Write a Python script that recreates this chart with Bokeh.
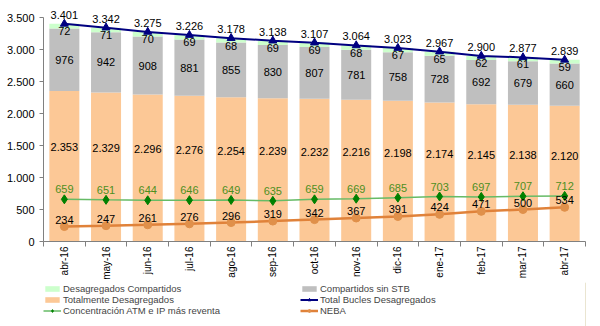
from bokeh.plotting import figure
from bokeh.layouts import column
from bokeh.models import (ColumnDataSource, FixedTicker, Legend, LegendItem,
                          CustomJSTickFormatter)
from bokeh.core.properties import value
from bokeh.embed import file_html
from bokeh.resources import INLINE

months = ["abr-16", "may-16", "jun-16", "jul-16", "ago-16", "sep-16", "oct-16",
          "nov-16", "dic-16", "ene-17", "feb-17", "mar-17", "abr-17"]
totalmente = [2353, 2329, 2296, 2276, 2254, 2239, 2232, 2216, 2198, 2174, 2145, 2138, 2120]
compartidos_sin_stb = [976, 942, 908, 881, 855, 830, 807, 781, 758, 728, 692, 679, 660]
desag_compartidos = [72, 71, 70, 69, 68, 69, 69, 68, 67, 65, 62, 61, 59]
total_bucles = [3401, 3342, 3275, 3226, 3178, 3138, 3107, 3064, 3023, 2967, 2900, 2877, 2839]
concentracion = [659, 651, 644, 646, 649, 635, 659, 669, 685, 703, 697, 707, 712]
neba = [234, 247, 261, 276, 296, 319, 342, 367, 391, 424, 471, 500, 534]


def fmt(v):
    return f"{v:,}".replace(",", ".")


n = len(months)
xs = list(range(n))
b1 = totalmente
b2 = [a + b for a, b in zip(totalmente, compartidos_sin_stb)]
b3 = [a + b for a, b in zip(b2, desag_compartidos)]

src = ColumnDataSource(dict(
    x=xs, tot=totalmente, b1=b1, b2=b2, b3=b3, zero=[0] * n,
    gray_mid=[(a + b) / 2 for a, b in zip(b1, b2)],
    tot_lab_y=[v * 0.63 for v in totalmente],
    tot_lab=[fmt(v) for v in totalmente],
    gray_lab=[fmt(v) for v in compartidos_sin_stb],
    green_lab=[fmt(v) for v in desag_compartidos],
    total=total_bucles, total_lab=[fmt(v) for v in total_bucles],
    conc=concentracion, conc_lab=[fmt(v) for v in concentracion],
    neba=neba, neba_lab=[fmt(v) for v in neba],
))

FONT = "Liberation Sans"
C_OR, C_GR, C_LG = "#FCC896", "#BFBFBF", "#CCFFCC"
C_TOT = "#000080"
C_CL, C_CM = "#66BB66", "#008000"
C_NL, C_NM = "#E0823A", "#E0904A"

p = figure(frame_width=542, frame_height=241, output_backend="svg",
           toolbar_location=None,
           x_range=(-0.5, n - 0.5), y_range=(0, 3766),
           min_border_left=43, min_border_right=15, min_border_top=0,
           min_border_bottom=0)
p.outline_line_color = None
p.grid.grid_line_color = None
p.background_fill_color = "white"

W = 0.72
p.vbar(x="x", bottom="zero", top="b1", width=W, source=src, fill_color=C_OR, line_color=None)
p.vbar(x="x", bottom="b1", top="b2", width=W, source=src, fill_color=C_GR, line_color=None)
p.vbar(x="x", bottom="b2", top="b3", width=W, source=src, fill_color=C_LG, line_color=None)

p.line("x", "total", source=src, line_color=C_TOT, line_width=2)
p.scatter("x", "total", source=src, marker="triangle", size=8,
          fill_color=C_TOT, line_color=C_TOT)
p.line("x", "conc", source=src, line_color=C_CL, line_width=1.5)
p.scatter("x", "conc", source=src, marker="diamond", size=9,
          fill_color=C_CM, line_color=C_CM)
p.line("x", "neba", source=src, line_color=C_NL, line_width=2.5)
p.scatter("x", "neba", source=src, marker="circle", size=8,
          fill_color=C_NM, line_color=C_NM)

common = dict(source=src, text_font=value(FONT), text_font_size="11px",
              text_align="center")
p.text("x", "tot_lab_y", text="tot_lab", text_color="black",
       text_baseline="middle", **common)
p.text("x", "gray_mid", text="gray_lab", text_color="black",
       text_baseline="middle", **common)
p.text("x", "b2", text="green_lab", text_color="black",
       text_baseline="top", y_offset=-1, **common)
p.text("x", "total", text="total_lab", text_color="black",
       text_baseline="bottom", y_offset=-5, **common)
p.text("x", "conc", text="conc_lab", text_color="#4E8F1E",
       text_baseline="bottom", y_offset=-6, **common)
p.text("x", "neba", text="neba_lab", text_color="black",
       text_baseline="bottom", y_offset=-3, **common)

# axes
p.yaxis.ticker = FixedTicker(ticks=list(range(0, 3501, 500)))
p.yaxis.bounds = (0, 3500)
p.yaxis.formatter = CustomJSTickFormatter(
    code="return tick.toString().replace(/\\B(?=(\\d{3})+(?!\\d))/g, '.');")
p.yaxis.major_label_text_font = FONT
p.yaxis.major_label_text_font_size = "11px"
p.yaxis.major_label_text_color = "black"
p.yaxis.axis_line_color = "#808080"
p.yaxis.major_tick_line_color = "#808080"
p.yaxis.major_tick_in = 0
p.yaxis.major_tick_out = 4
p.yaxis.minor_tick_line_color = None

p.xaxis.ticker = FixedTicker(ticks=xs, minor_ticks=[i - 0.5 for i in range(n + 1)])
p.xaxis.major_label_overrides = {i: m for i, m in enumerate(months)}
p.xaxis.major_label_orientation = 1.5708
p.xaxis.major_label_text_font = FONT
p.xaxis.major_label_text_font_size = "10px"
p.xaxis.major_label_text_color = "black"
p.xaxis.major_tick_line_color = None
p.xaxis.major_tick_in = 0
p.xaxis.major_tick_out = 4
p.xaxis.minor_tick_line_color = "#808080"
p.xaxis.minor_tick_in = 0
p.xaxis.minor_tick_out = 5
p.xaxis.axis_line_color = "#808080"
p.xaxis.major_label_standoff = 0

# legend figure (separate strip below the chart); its glyphs lie outside its ranges
lg = figure(width=600, height=46, output_backend="svg", toolbar_location=None,
            x_range=(0, 1), y_range=(0, 1), x_axis_location=None,
            y_axis_location=None, min_border=0)
lg.outline_line_color = None
lg.grid.grid_line_color = None
OUT = [9]
l_lg = lg.vbar(x=OUT, top=OUT, width=1, fill_color=C_LG, line_color=None)
l_gr = lg.vbar(x=OUT, top=OUT, width=1, fill_color=C_GR, line_color=None)
l_or = lg.vbar(x=OUT, top=OUT, width=1, fill_color=C_OR, line_color=None)
l_tl = lg.line(x=OUT, y=OUT, line_color=C_TOT, line_width=2)
l_tm = lg.scatter(x=OUT, y=OUT, marker="triangle", size=7, fill_color=C_TOT, line_color=C_TOT)
l_cl = lg.line(x=OUT, y=OUT, line_color=C_CL, line_width=1.5)
l_cm = lg.scatter(x=OUT, y=OUT, marker="diamond", size=7, fill_color=C_CM, line_color=C_CM)
l_nl = lg.line(x=OUT, y=OUT, line_color=C_NL, line_width=2.5)
l_nm = lg.scatter(x=OUT, y=OUT, marker="circle", size=7, fill_color=C_NM, line_color=C_NM)

legend = Legend(items=[
    LegendItem(label="Desagregados Compartidos", renderers=[l_lg]),
    LegendItem(label="Totalmente Desagregados", renderers=[l_or]),
    LegendItem(label="Concentración ATM e IP más reventa", renderers=[l_cl, l_cm]),
    LegendItem(label="Compartidos sin STB", renderers=[l_gr]),
    LegendItem(label="Total Bucles Desagregados", renderers=[l_tl, l_tm]),
    LegendItem(label="NEBA", renderers=[l_nl, l_nm]),
], ncols=2, location=(0, 12), orientation="vertical",
    label_text_font=FONT, label_text_font_size="9.5px",
    label_height=11, glyph_height=7, glyph_width=18, label_width=237,
    label_standoff=2, spacing=0, padding=0, margin=0,
    border_line_color=None, background_fill_alpha=0)
lg.add_layout(legend)

layout = column(p, lg, spacing=0)
open("out.html", "w").write(file_html(layout, INLINE))
